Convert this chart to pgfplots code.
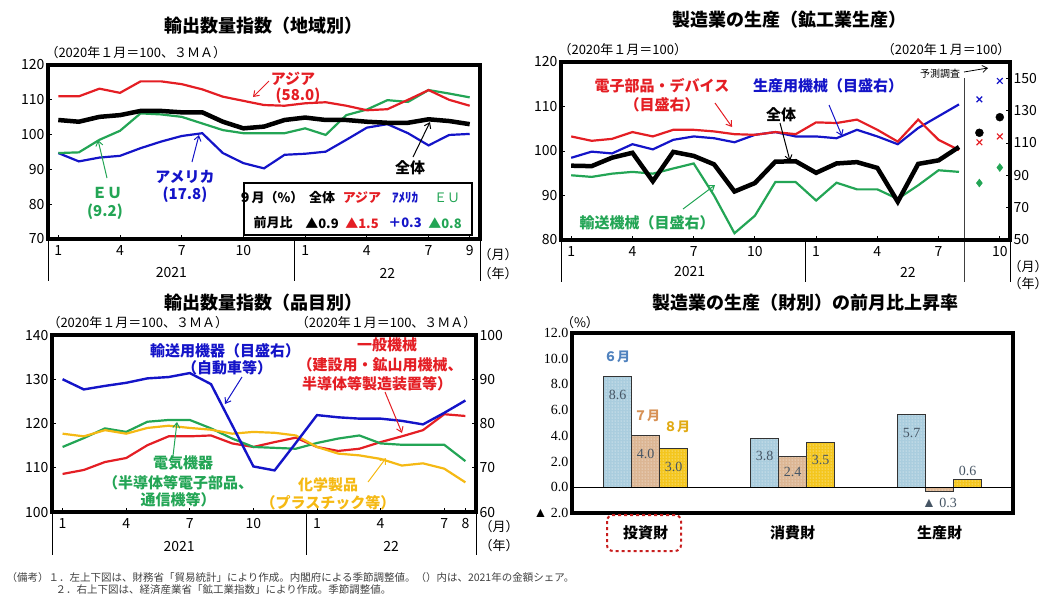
\documentclass[border=0pt]{standalone}
\usepackage{fontspec}
\setmainfont{Noto Sans CJK JP}
\newfontfamily\numserif{Liberation Serif}
\usepackage{pgfplots}
\pgfplotsset{compat=1.18}
\usetikzlibrary{arrows.meta,patterns}

\definecolor{cred}{RGB}{228,30,36}
\definecolor{cblue}{RGB}{20,20,200}
\definecolor{cgreen}{RGB}{35,165,85}
\definecolor{cyel}{RGB}{245,185,20}
\definecolor{bar6}{RGB}{170,205,222}
\definecolor{bar7}{RGB}{220,182,148}
\definecolor{bar8}{RGB}{244,198,30}
\definecolor{lab6}{RGB}{80,130,190}
\definecolor{lab7}{RGB}{215,145,85}
\definecolor{lab8}{RGB}{225,170,20}
\definecolor{numgray}{RGB}{70,85,100}
\definecolor{boxred}{RGB}{200,30,30}

\newcommand{\fs}[1]{\fontsize{#1}{#1}\selectfont}
\tikzset{ann/.style={-{Straight Barb[length=5pt,width=7pt]}, line width=1pt},
  sep/.style={line width=1pt},
  frame/.style={line width=3.6pt}}

\pgfplotsset{
  panel/.style={scale only axis, anchor=south west, clip=false,
    axis line style={line width=1pt},
    tick style={black, line width=0.8pt}, tick align=inside, major tick length=4pt,
    ticklabel style={font=\fs{14}},
    /pgf/number format/assume math mode=true,
    xtick pos=left, ytick pos=left,
    xticklabel style={yshift=-3pt}},
}

\begin{document}
\begin{tikzpicture}
\path[use as bounding box] (0,0) rectangle (1046pt,-595pt);

% ---------- titles ----------
\node[font=\bfseries\fs{18}] at (263pt,-26pt) {輸出数量指数（地域別）};
\node[font=\bfseries\fs{18}] at (789pt,-20pt) {製造業の生産（鉱工業生産）};
\node[font=\bfseries\fs{18}] at (263pt,-303pt) {輸出数量指数（品目別）};
\node[font=\bfseries\fs{18}] at (805pt,-303pt) {製造業の生産（財別）の前月比上昇率};

% ---------- panel 1 ----------
\node[anchor=west, font=\fs{13}] at (42pt,-53pt) {（2020年１月＝100、３ＭＡ）};
\begin{axis}[panel, at={(48pt,-239pt)}, width=432pt, height=174pt,
  xmin=0.5, xmax=21.5, ymin=70, ymax=120, ytick={70,80,...,120},
  xtick={1,4,7,10,13,16,19,21}, xticklabels={1,4,7,10,1,4,7,9}]
\addplot[cblue, line width=2.2pt] coordinates {(1,94.7)(2,92.3)(3,93.4)(4,93.9)(5,96.1)(6,98.0)(7,99.6)(8,100.4)(9,94.7)(10,91.8)(11,90.3)(12,94.2)(13,94.5)(14,95.1)(15,98.5)(16,102.0)(17,103.0)(18,100.4)(19,96.9)(20,99.9)(21,100.2)};
\addplot[cgreen, line width=2.2pt] coordinates {(1,94.7)(2,94.9)(3,98.5)(4,101.1)(5,106.1)(6,105.8)(7,105.1)(8,103.2)(9,101.3)(10,100.4)(11,100.4)(12,100.4)(13,101.8)(14,99.9)(15,105.6)(16,107.2)(17,109.9)(18,109.4)(19,112.8)(20,111.8)(21,110.7)};
\addplot[cred, line width=2.2pt] coordinates {(1,111.0)(2,111.0)(3,113.2)(4,112.0)(5,115.3)(6,115.3)(7,114.5)(8,113.0)(9,110.9)(10,109.7)(11,108.5)(12,108.3)(13,109.0)(14,109.3)(15,108.3)(16,107.0)(17,107.3)(18,110.0)(19,112.8)(20,110.0)(21,108.3)};
\addplot[black, line width=4.5pt] coordinates {(1,104.2)(2,103.7)(3,105.1)(4,105.6)(5,106.8)(6,106.8)(7,106.4)(8,106.4)(9,103.7)(10,101.8)(11,102.3)(12,104.2)(13,104.9)(14,104.2)(15,104.2)(16,103.7)(17,103.4)(18,103.4)(19,104.4)(20,103.9)(21,103.0)};
\draw[sep] (axis cs:0.5,70) -- ([yshift=-42pt]axis cs:0.5,70);
\draw[sep] (axis cs:12.5,70) -- ([yshift=-42pt]axis cs:12.5,70);
\draw[sep] (axis cs:21.5,70) -- ([yshift=-42pt]axis cs:21.5,70);
\node[font=\fs{14}] at (axis cs:6.5,70) [yshift=-34pt] {2021};
\node[font=\fs{14}] at (axis cs:17,70) [yshift=-34pt] {22};
\end{axis}
\draw[frame] (48pt,-239pt) rectangle (480pt,-65pt);
\node[font=\fs{13}] at (498pt,-255pt) {（月）};
\node[font=\fs{13}] at (498pt,-274pt) {（年）};
% annotations panel 1
\node[font=\bfseries\fs{15}, text=cred] at (293pt,-79pt) {アジア};
\node[font=\bfseries\fs{15}, text=cred] at (298pt,-96pt) {(58.0)};
\draw[ann, cred] (269pt,-81pt) -- (253pt,-97pt);
\node[font=\bfseries\fs{15}, text=cgreen] at (107pt,-193pt) {ＥＵ};
\node[font=\bfseries\fs{15}, text=cgreen] at (105pt,-212pt) {(9.2)};
\draw[ann, cgreen] (107pt,-178pt) -- (98pt,-140pt);
\node[font=\bfseries\fs{15}, text=cblue] at (185pt,-177pt) {アメリカ};
\node[font=\bfseries\fs{15}, text=cblue] at (185pt,-195pt) {(17.8)};
\draw[ann, cblue] (192pt,-162pt) -- (199pt,-135pt);
\node[font=\bfseries\fs{15}] at (410pt,-168pt) {全体};
\draw[ann] (413pt,-157pt) -- (430pt,-122pt);
% small table
\draw[line width=2pt, fill=white] (244pt,-183pt) rectangle (472pt,-235pt);
\begin{scope}[every node/.style={font=\bfseries\fs{13}}]
\node at (271pt,-198pt) {９月（\%）};
\node at (322pt,-198pt) {全体};
\node[text=cred] at (362pt,-198pt) {アジア};
\node[text=cblue] at (405pt,-198pt) {ｱﾒﾘｶ};
\node[text=cgreen, font=\fs{13}] at (447pt,-198pt) {ＥＵ};
\node at (273pt,-223pt) {前月比};
\node at (322pt,-223pt) {▲0.9};
\node[text=cred] at (362pt,-223pt) {▲1.5};
\node[text=cblue] at (405pt,-223pt) {＋0.3};
\node[text=cgreen] at (445pt,-223pt) {▲0.8};
\end{scope}

% ---------- panel 2 ----------
\node[anchor=west, font=\fs{13}] at (555pt,-50pt) {（2020年１月＝100）};
\node[anchor=east, font=\fs{13}] at (1014pt,-50pt) {（2020年１月＝100）};
\begin{axis}[panel, at={(561pt,-240pt)}, width=449pt, height=178pt,
  xmin=0.5, xmax=22.5, ymin=50, ymax=160, ytick={50,70,...,150}, ytick pos=right,
  xtick={1,4,7,10,13,16,19,22}, xticklabels={1,4,7,10,1,4,7,10}]
\addplot[cgreen, line width=2.2pt] coordinates {(1,90.0)(2,89.0)(3,91.0)(4,92.1)(5,91.0)(6,94.2)(7,97.3)(8,77.5)(9,54.2)(10,65.0)(11,85.8)(12,85.8)(13,74.4)(14,85.4)(15,81.3)(16,81.3)(17,75.4)(18,83.8)(19,93.1)(20,92.1)};
\addplot[cblue, line width=2.2pt] coordinates {(1,100.8)(2,104.6)(3,103.5)(4,109.2)(5,106.0)(6,111.9)(7,114.0)(8,112.9)(9,110.4)(10,115.0)(11,116.7)(12,114.0)(13,114.0)(14,112.9)(15,118.1)(16,114.0)(17,109.2)(18,119.2)(19,126.5)(20,133.8)};
\addplot[cred, line width=2.2pt] coordinates {(1,114.0)(2,111.3)(3,112.5)(4,116.7)(5,114.0)(6,118.1)(7,118.1)(8,117.1)(9,115.4)(10,115.0)(11,116.7)(12,115.4)(13,122.7)(14,122.3)(15,124.4)(16,118.1)(17,110.8)(18,124.4)(19,111.9)(20,105.6)};
\addplot[only marks, mark=x, mark size=4pt, cred, line width=1.2pt] coordinates {(21,110.4)(22,114.0)};
\addplot[only marks, mark=x, mark size=4pt, cblue, line width=1.2pt] coordinates {(21,136.9)(22,148.3)};
\addplot[only marks, mark=diamond*, mark size=4pt, cgreen] coordinates {(21,85.2)(22,94.8)};
\draw[sep] (axis cs:0.5,50) -- ([yshift=-42pt]axis cs:0.5,50);
\draw[sep] (axis cs:12.5,50) -- ([yshift=-42pt]axis cs:12.5,50);
\draw[sep] (axis cs:22.5,50) -- ([yshift=-42pt]axis cs:22.5,50);
\draw[line width=0.8pt, black!75] (axis cs:20.25,150) -- ([yshift=-42pt]axis cs:20.25,50);
\node[font=\fs{14}] at (axis cs:6.8,50) [yshift=-32pt] {2021};
\node[font=\fs{14}] at (axis cs:17.5,50) [yshift=-32pt] {22};
\end{axis}
\begin{axis}[panel, at={(561pt,-240pt)}, width=449pt, height=178pt,
  xmin=0.5, xmax=22.5, ymin=80, ymax=120, ytick={80,90,...,120},
  axis y line*=left, axis x line=none, ytick pos=left]
\addplot[black, line width=4.5pt] coordinates {(1,96.7)(2,96.6)(3,98.5)(4,99.6)(5,93.2)(6,99.8)(7,98.9)(8,97.0)(9,90.9)(10,92.8)(11,97.6)(12,97.7)(13,95.1)(14,97.2)(15,97.5)(16,96.2)(17,88.6)(18,97.1)(19,97.9)(20,100.9)};
\addplot[only marks, mark=*, mark size=4pt, black] coordinates {(21,104.1)(22,107.6)};
\end{axis}
\draw[frame] (561pt,-240pt) rectangle (1010pt,-62pt);
\node[font=\fs{13}] at (1028pt,-267pt) {（月）};
\node[font=\fs{13}] at (1028pt,-284pt) {（年）};
\node[font=\fs{15}\bfseries, text=cred] at (662pt,-86pt) {電子部品・デバイス};
\node[font=\fs{15}\bfseries, text=cred] at (662pt,-105pt) {（目盛右）};
\draw[ann, cred] (715pt,-103pt) -- (732pt,-127pt);
\node[font=\fs{15}\bfseries, text=cblue] at (828pt,-86pt) {生産用機械（目盛右）};
\draw[ann, cblue] (829pt,-105pt) -- (842pt,-136pt);
\node[font=\fs{15}\bfseries] at (781pt,-115pt) {全体};
\draw[ann] (780pt,-123pt) -- (790pt,-161pt);
\node[font=\fs{15}\bfseries, text=cgreen] at (647pt,-223pt) {輸送機械（目盛右）};
\draw[ann, cgreen] (683pt,-209pt) -- (715pt,-185pt);
\node[font=\fs{10}] at (940pt,-74pt) {予測調査};
\draw[-{Straight Barb[length=5pt,width=7pt]}, line width=0.8pt] (964pt,-72pt) -- (988pt,-68pt);

% ---------- panel 3 ----------
\node[anchor=west, font=\fs{13}] at (44pt,-323pt) {（2020年１月＝100、３ＭＡ）};
\node[anchor=east, font=\fs{13}] at (480pt,-323pt) {（2020年１月＝100、３ＭＡ）};
\begin{axis}[panel, at={(52pt,-512pt)}, width=424pt, height=177pt,
  xmin=0.5, xmax=20.5, ymin=100, ymax=140, ytick={100,110,...,140},
  xtick={1,4,7,10,13,16,19,20}, xticklabels={1,4,7,10,1,4,7,8}]
\addplot[cred, line width=2.2pt] coordinates {(1,108.6)(2,109.5)(3,111.3)(4,112.2)(5,115.1)(6,117.1)(7,117.1)(8,117.3)(9,115.5)(10,114.7)(11,115.8)(12,116.8)(13,114.7)(14,113.8)(15,114.3)(16,115.8)(17,117.1)(18,118.5)(19,122.1)(20,121.7)};
\addplot[cgreen, line width=2.2pt] coordinates {(1,114.7)(2,116.7)(3,118.9)(4,118.1)(5,120.4)(6,120.8)(7,120.8)(8,118.9)(9,116.6)(10,114.7)(11,114.5)(12,114.3)(13,115.6)(14,116.6)(15,117.3)(16,115.5)(17,115.2)(18,115.2)(19,115.2)(20,111.5)};
\addplot[cyel, line width=2.2pt] coordinates {(1,117.7)(2,117.1)(3,118.5)(4,117.7)(5,119.0)(6,119.5)(7,119.0)(8,118.6)(9,117.7)(10,118.1)(11,117.9)(12,117.3)(13,114.7)(14,113.2)(15,112.8)(16,112.0)(17,110.5)(18,111.0)(19,109.8)(20,106.7)};
\draw[sep] (axis cs:0.5,100) -- ([yshift=-43pt]axis cs:0.5,100);
\draw[sep] (axis cs:12.5,100) -- ([yshift=-43pt]axis cs:12.5,100);
\draw[sep] (axis cs:20.5,100) -- ([yshift=-43pt]axis cs:20.5,100);
\node[font=\fs{14}] at (axis cs:6.5,100) [yshift=-34pt] {2021};
\node[font=\fs{14}] at (axis cs:16.5,100) [yshift=-34pt] {22};
\end{axis}
\begin{axis}[panel, at={(52pt,-512pt)}, width=424pt, height=177pt,
  xmin=0.5, xmax=20.5, ymin=60, ymax=100, ytick={60,70,...,100},
  axis y line*=right, axis x line=none, ytick pos=right]
\addplot[cblue, line width=2.4pt] coordinates {(1,90.0)(2,87.7)(3,88.5)(4,89.2)(5,90.2)(6,90.5)(7,91.4)(8,88.9)(9,79.6)(10,70.3)(11,69.4)(12,75.6)(13,81.9)(14,81.4)(15,81.1)(16,81.1)(17,80.6)(18,79.8)(19,82.4)(20,85.2)};
\end{axis}
\draw[frame] (52pt,-512pt) rectangle (476pt,-335pt);
\node[font=\fs{13}] at (499pt,-527pt) {（月）};
\node[font=\fs{13}] at (499pt,-546pt) {（年）};
\node[font=\fs{15}\bfseries, text=cblue] at (225pt,-351pt) {輸送用機器（目盛右）};
\node[font=\fs{15}\bfseries, text=cblue] at (227pt,-368pt) {（自動車等）};
\draw[ann, cblue] (242pt,-377pt) -- (225pt,-404pt);
\node[font=\fs{15}\bfseries, text=cred] at (387pt,-345pt) {一般機械};
\node[font=\fs{15}\bfseries, text=cred] at (380pt,-365pt) {（建設用・鉱山用機械、};
\node[font=\fs{15}\bfseries, text=cred] at (377pt,-384pt) {半導体等製造装置等）};
\draw[ann, cred] (385pt,-392pt) -- (402pt,-433pt);
\node[font=\fs{15}\bfseries, text=cgreen] at (183pt,-463pt) {電気機器};
\node[font=\fs{15}\bfseries, text=cgreen] at (178pt,-483pt) {（半導体等電子部品、};
\node[font=\fs{15}\bfseries, text=cgreen] at (178pt,-500pt) {通信機等）};
\draw[ann, cgreen] (173pt,-456pt) -- (177pt,-422pt);
\node[font=\fs{15}\bfseries, text=cyel] at (328pt,-485pt) {化学製品};
\node[font=\fs{15}\bfseries, text=cyel] at (328pt,-503pt) {（プラスチック等）};
\draw[ann, cyel] (368pt,-482pt) -- (386pt,-458pt);

% ---------- panel 4 ----------
\node[font=\fs{13}] at (580pt,-323pt) {（\%）};
\begin{axis}[panel, at={(572pt,-513pt)}, width=441pt, height=180pt,
  xmin=-0.5, xmax=2.5, ymin=-2, ymax=12, ytick={-2,0,...,12},
  yticklabels={▲ 2.0,0.0,2.0,4.0,6.0,8.0,10.0,12.0},
  yticklabel style={font=\numserif\fs{14}},
  xtick={0,1,2}, xticklabels={投資財,消費財,生産財},
  xticklabel style={font=\bfseries\fs{15}, yshift=-6pt},
  major tick length=0pt, ybar=0pt, bar width=28pt]
\addplot[fill=bar6, draw=black!80, line width=1pt, postaction={pattern=dots, pattern color=white}] coordinates {(0,8.6)(1,3.8)(2,5.7)};
\addplot[fill=bar7, draw=black!80, line width=1pt, postaction={pattern=dots, pattern color=white}] coordinates {(0,4.0)(1,2.4)(2,-0.3)};
\addplot[fill=bar8, draw=black!80, line width=1pt, postaction={pattern=dots, pattern color=white}] coordinates {(0,3.0)(1,3.5)(2,0.6)};
\draw[line width=1pt] (axis cs:-0.5,0) -- (axis cs:2.5,0);
\begin{scope}[every node/.style={font=\numserif\fs{14}, text=numgray}]
\node at (axis cs:0,8.6) [xshift=-28pt, yshift=-18pt] {8.6};
\node at (axis cs:0,4.0) [yshift=-18pt] {4.0};
\node at (axis cs:0,3.0) [xshift=28pt, yshift=-18pt] {3.0};
\node at (axis cs:1,3.8) [xshift=-28pt, yshift=-18pt] {3.8};
\node at (axis cs:1,2.4) [yshift=-16pt] {2.4};
\node at (axis cs:1,3.5) [xshift=28pt, yshift=-18pt] {3.5};
\node at (axis cs:2,5.7) [xshift=-28pt, yshift=-19pt] {5.7};
\node at (axis cs:2,0.6) [xshift=28pt, yshift=9pt] {0.6};
\node at (axis cs:2,-0.3) [yshift=-12pt] {▲ 0.3};
\end{scope}
\end{axis}
\draw[frame] (572pt,-513pt) rectangle (1013pt,-333pt);
\node[font=\bfseries\fs{13}, text=lab6] at (617pt,-357pt) {６月};
\node[font=\bfseries\fs{13}, text=lab7] at (647pt,-416pt) {７月};
\node[font=\bfseries\fs{13}, text=lab8] at (677pt,-427pt) {８月};
\draw[boxred, line width=2pt, dashed, rounded corners=6pt] (607pt,-515pt) rectangle (681pt,-551pt);

% ---------- notes ----------
\node[anchor=west, font=\fs{10.5}, text=black!75] at (3pt,-577pt) {（備考）１．左上下図は、財務省「貿易統計」により作成。内閣府による季節調整値。（）内は、2021年の金額シェア。};
\node[anchor=west, font=\fs{10.5}, text=black!75] at (52pt,-590pt) {２．右上下図は、経済産業省「鉱工業指数」により作成。季節調整値。};
\end{tikzpicture}
\end{document}
